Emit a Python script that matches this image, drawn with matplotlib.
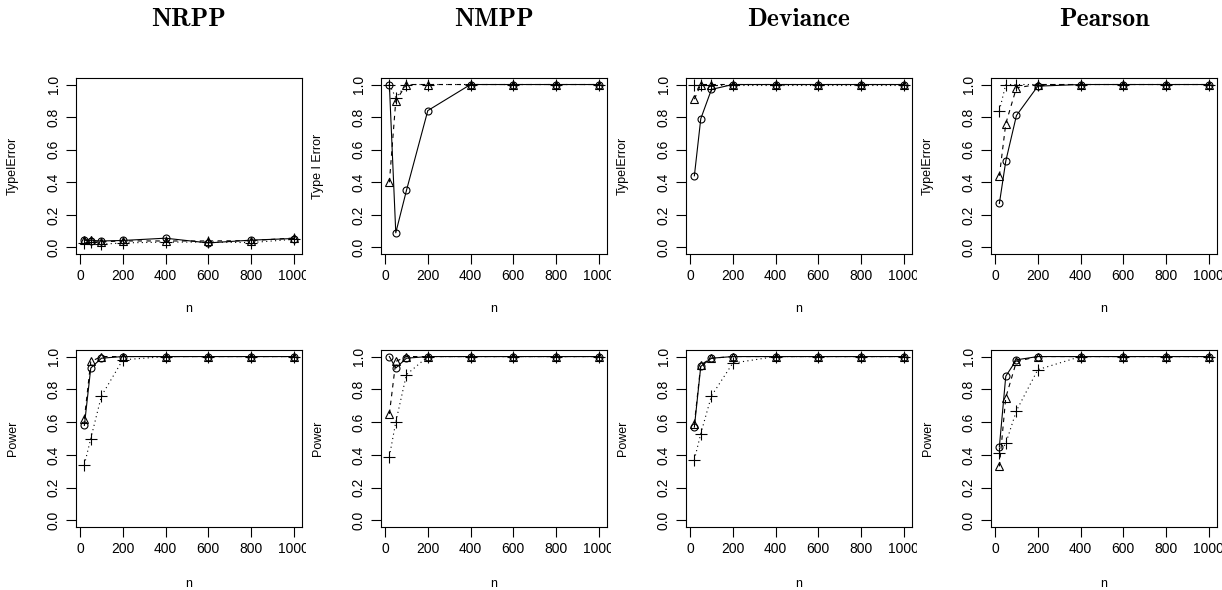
import os

import matplotlib
matplotlib.use('Agg')
import matplotlib.pyplot as plt
from matplotlib.font_manager import FontProperties
from matplotlib.transforms import Bbox, TransformedBbox

n = [20, 50, 100, 200, 400, 600, 800, 1000]
titles = ['NRPP', 'NMPP', 'Deviance', 'Pearson']
top_ylabels = ['TypeIError', 'Type I Error', 'TypeIError', 'TypeIError']

# type I error, rows: circle/solid, triangle/dashed, plus/dotted
nrpp_t1 = [[0.045, 0.042, 0.040, 0.043, 0.057, 0.028, 0.045, 0.055],
           [0.047, 0.045, 0.035, 0.040, 0.040, 0.040, 0.042, 0.058],
           [0.030, 0.035, 0.020, 0.028, 0.033, 0.033, 0.030, 0.050]]
nmpp_t1 = [[1.00, 0.09, 0.35, 0.84, 1.00, 1.00, 1.00, 1.00],
           [0.40, 0.90, 1.00, 1.00, 1.00, 1.00, 1.00, 1.00],
           [1.00, 0.92, 1.00, 1.00, 1.00, 1.00, 1.00, 1.00]]
dev_t1 = [[0.44, 0.79, 0.97, 1.00, 1.00, 1.00, 1.00, 1.00],
          [0.91, 1.00, 1.00, 1.00, 1.00, 1.00, 1.00, 1.00],
          [1.00, 1.00, 1.00, 1.00, 1.00, 1.00, 1.00, 1.00]]
pear_t1 = [[0.27, 0.53, 0.81, 0.99, 1.00, 1.00, 1.00, 1.00],
           [0.44, 0.76, 0.98, 1.00, 1.00, 1.00, 1.00, 1.00],
           [0.84, 1.00, 1.00, 1.00, 1.00, 1.00, 1.00, 1.00]]

# power
nrpp_pw = [[0.58, 0.93, 0.99, 1.00, 1.00, 1.00, 1.00, 1.00],
           [0.62, 0.97, 1.00, 1.00, 1.00, 1.00, 1.00, 1.00],
           [0.34, 0.50, 0.76, 0.98, 1.00, 1.00, 1.00, 1.00]]
nmpp_pw = [[1.00, 0.93, 0.99, 1.00, 1.00, 1.00, 1.00, 1.00],
           [0.65, 0.97, 1.00, 1.00, 1.00, 1.00, 1.00, 1.00],
           [0.39, 0.60, 0.89, 1.00, 1.00, 1.00, 1.00, 1.00]]
dev_pw = [[0.57, 0.94, 0.99, 1.00, 1.00, 1.00, 1.00, 1.00],
          [0.59, 0.95, 0.99, 1.00, 1.00, 1.00, 1.00, 1.00],
          [0.37, 0.53, 0.76, 0.96, 1.00, 1.00, 1.00, 1.00]]
pear_pw = [[0.45, 0.88, 0.98, 1.00, 1.00, 1.00, 1.00, 1.00],
           [0.33, 0.75, 0.97, 1.00, 1.00, 1.00, 1.00, 1.00],
           [0.41, 0.47, 0.67, 0.92, 1.00, 1.00, 1.00, 1.00]]

top_data = [nrpp_t1, nmpp_t1, dev_t1, pear_t1]
bottom_data = [nrpp_pw, nmpp_pw, dev_pw, pear_pw]

plt.rcParams['font.family'] = ['Liberation Sans', 'DejaVu Sans']

title_font = FontProperties(fname=os.path.join(matplotlib.get_data_path(), 'fonts', 'ttf', 'cmb10.ttf'), size=18.5)

W, H = 1222, 590
fig = plt.figure(figsize=(W / 100, H / 100), dpi=100)

styles = [dict(marker='o', ls='-', ms=5),
          dict(marker='^', ls=(0, (4, 4)), ms=6),
          dict(marker='+', ls=(0, (1, 3)), ms=8)]
lefts = [76, 381, 686, 991]
box_w = 226
rows = [(78, 254, top_data, top_ylabels, -0.278), (350, 527, bottom_data, ['Power'] * 4, -0.29)]

for r, (ytop, ybot, data, ylabs, nlab) in enumerate(rows):
    for c in range(4):
        ax = fig.add_axes([lefts[c] / W, 1 - ybot / H, box_w / W, (ybot - ytop) / H])
        for s, vals in enumerate(data[c]):
            st = styles[s]
            ax.plot(n, vals, color='black', lw=0.8, linestyle=st['ls'], marker=st['marker'],
                    markersize=st['ms'], markerfacecolor='none',
                    markeredgecolor='black', markeredgewidth=0.8)
        ax.set_xlim(-19.2, 1039.2)
        ax.set_ylim(-0.04, 1.04)
        ax.set_xticks([0, 200, 400, 600, 800, 1000])
        ax.set_xticklabels(['0', '200', '400', '600', '800', '1000'])
        ax.set_yticks([0, 0.2, 0.4, 0.6, 0.8, 1.0])
        ax.set_yticklabels(['0.0', '0.2', '0.4', '0.6', '0.8', '1.0'], rotation=90, va='center')
        ax.tick_params(direction='out', length=7, width=0.8, labelsize=10, pad=4)
        for sp in ax.spines.values():
            sp.set_linewidth(0.8)
        ax.set_xlabel('n', fontsize=9)
        ax.xaxis.set_label_coords(0.5, nlab)
        ax.set_ylabel(ylabs[c], fontsize=9)
        ax.yaxis.set_label_coords(-0.252, 0.5)
        # clip tick labels to the panel's column, like R's figure region
        col_box = TransformedBbox(Bbox([[c * 0.25, 0], [(c + 1) * 0.25, 1]]), fig.transFigure)
        for lab in ax.get_xticklabels():
            lab.set_clip_on(True)
            lab.set_clip_box(col_box)
        if r == 0:
            fig.text((lefts[c] + box_w / 2) / W, 1 - 19 / H, titles[c],
                     fontproperties=title_font, ha='center', va='center')

fig.savefig('out.png', dpi=100)
